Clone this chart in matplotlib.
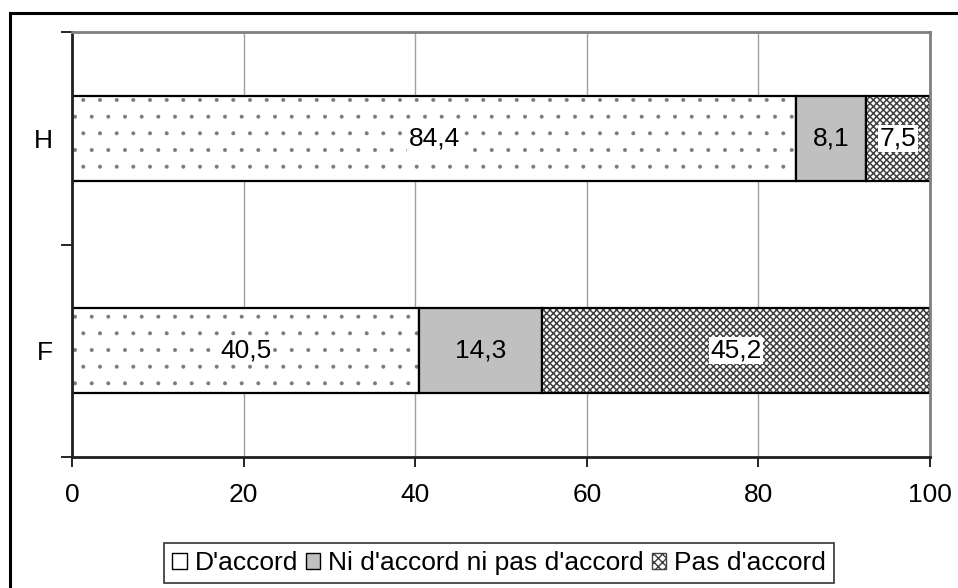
import numpy as np
import matplotlib.pyplot as plt
from matplotlib.patches import Patch, Rectangle

plt.rcParams['font.family'] = ['Liberation Sans', 'DejaVu Sans']

# Data
groups = ['F', 'H']
series_names = ["D'accord", "Ni d'accord ni pas d'accord", "Pas d'accord"]
d_accord = [40.5, 84.4]
ni_ni = [14.3, 8.1]
pas_accord = [45.2, 7.5]
value_labels = [['40,5', '84,4'], ['14,3', '8,1'], ['45,2', '7,5']]
x_ticks = [0, 20, 40, 60, 80, 100]

series = [d_accord, ni_ni, pas_accord]
styles = [
    dict(facecolor='white', hatch='.', hatchcolor='#7a7a7a', hlw=0.4),
    dict(facecolor='#c0c0c0', hatch=None, hatchcolor='black', hlw=1.0),
    dict(facecolor='white', hatch='xxxxx', hatchcolor='#404040', hlw=1.1),
]
label_box = [True, False, True]
fs = 19

fig = plt.figure(figsize=(9.58, 5.88), dpi=100)
ax = fig.add_axes([72 / 958, 1 - 457 / 588, 858 / 958, 425 / 588])

# outer chart frame
fig.patches.append(Rectangle((10 / 958, -0.1), 1.2, 1 - 13 / 588 + 0.1,
                             transform=fig.transFigure, fill=False,
                             edgecolor='black', linewidth=2.2))

y = np.arange(len(groups)) + 0.5
left = np.zeros(len(groups))
for vals, st, labs, boxed in zip(series, styles, value_labels, label_box):
    plt.rcParams['hatch.linewidth'] = st['hlw']
    ax.barh(y, vals, height=0.4, left=left, color=st['facecolor'],
            hatch=st['hatch'], edgecolor=st['hatchcolor'], linewidth=0)
    ax.barh(y, vals, height=0.4, left=left, fill=False,
            edgecolor='black', linewidth=1.6)
    for yi, l, v, t in zip(y, left, vals, labs):
        bbox = dict(facecolor='white', edgecolor='none', pad=1.0) if boxed else None
        ax.text(l + v / 2, yi, t, ha='center', va='center', fontsize=fs,
                bbox=bbox)
    left = left + np.array(vals)

ax.set_xlim(0, 100)
ax.set_ylim(0, 2)
ax.set_xticks(x_ticks)
ax.set_xticklabels([str(v) for v in x_ticks], fontsize=fs)
ax.set_yticks([0, 1, 2])
ax.set_yticklabels([])
ax.set_yticks(y, minor=True)
ax.set_yticklabels(groups, minor=True, fontsize=fs)
ax.tick_params(axis='y', which='minor', length=0, pad=14)
ax.tick_params(axis='y', which='major', length=8, width=1.2, direction='out')
ax.tick_params(axis='x', length=7, width=1.2, direction='out', pad=12)
ax.grid(axis='x', color='#a0a0a0', linewidth=1.0)
ax.set_axisbelow(True)

for side in ['left', 'bottom']:
    ax.spines[side].set_linewidth(2)
    ax.spines[side].set_color('#202020')
for side in ['top', 'right']:
    ax.spines[side].set_linewidth(2)
    ax.spines[side].set_color('#808080')

plt.rcParams['hatch.linewidth'] = 1.0
handles = [Patch(facecolor='white', edgecolor='black', linewidth=1),
           Patch(facecolor='#c0c0c0', edgecolor='black', linewidth=1),
           Patch(facecolor='white', hatch='xxxx', edgecolor='#404040', linewidth=1)]
leg = fig.legend(handles, series_names, loc='center', ncol=3,
                 bbox_to_anchor=(499 / 958, 1 - 563 / 588), fontsize=fs,
                 frameon=True, fancybox=False, handlelength=0.55,
                 handleheight=0.55, handletextpad=0.3, columnspacing=0.3,
                 borderpad=0.3, borderaxespad=0)
leg.get_frame().set_edgecolor('black')
leg.get_frame().set_linewidth(1.2)

fig.savefig('out.png', dpi=100)
